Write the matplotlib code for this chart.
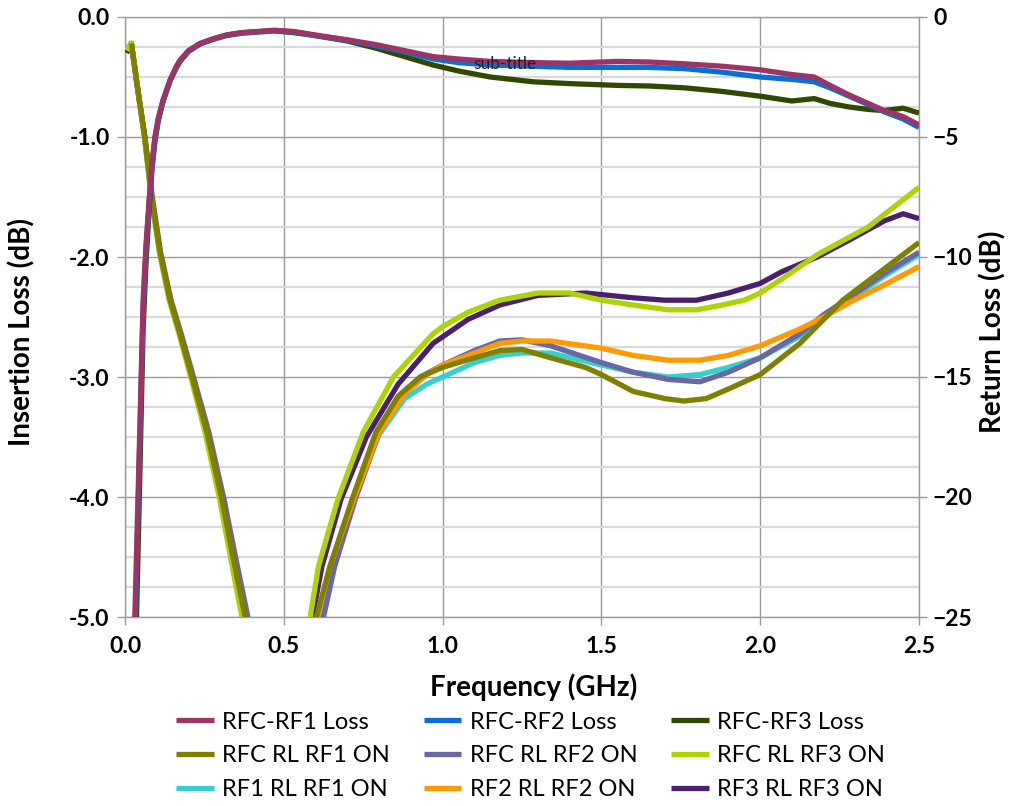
import matplotlib
matplotlib.use('Agg')
import matplotlib.pyplot as plt
from matplotlib import font_manager
from matplotlib.ticker import MultipleLocator, FormatStrFormatter

# pick a family that really has a bold face
FAMILY = 'DejaVu Sans'
for cand in ['Lato', 'Open Sans', 'Noto Sans', 'Roboto', 'Liberation Sans']:
    try:
        p = font_manager.findfont(font_manager.FontProperties(family=cand, weight='bold'),
                                  fallback_to_default=False)
        if 'bold' in p.lower():
            FAMILY = cand
            break
    except Exception:
        pass
plt.rcParams['font.family'] = [FAMILY, 'DejaVu Sans']
plt.rcParams['font.weight'] = 'bold'

# ---------------- data ----------------
IL_FREQ = [0.020, 0.031, 0.045, 0.057, 0.066, 0.076, 0.085, 0.094, 0.105, 0.120,
           0.142, 0.160, 0.173, 0.200, 0.236, 0.280, 0.320, 0.370, 0.425, 0.470,
           0.530, 0.600, 0.700, 0.790, 0.880, 0.970, 1.050, 1.150, 1.285, 1.400,
           1.550, 1.650, 1.760, 1.880, 2.000, 2.100, 2.170, 2.220, 2.280, 2.340,
           2.390, 2.450, 2.500]
IL_RFC_RF1 = [-6.5, -5.0, -3.6, -2.36, -1.9, -1.52, -1.22, -1.0, -0.84, -0.69,
              -0.525, -0.42, -0.36, -0.28, -0.22, -0.18, -0.15, -0.13, -0.12, -0.11,
              -0.12, -0.15, -0.19, -0.23, -0.28, -0.33, -0.35, -0.37, -0.38, -0.385,
              -0.37, -0.375, -0.39, -0.41, -0.44, -0.48, -0.50, -0.57, -0.65, -0.72,
              -0.78, -0.83, -0.90]
IL_RFC_RF2 = [-6.6, -5.2, -3.7, -2.45, -1.95, -1.55, -1.24, -1.02, -0.85, -0.70,
              -0.53, -0.43, -0.37, -0.285, -0.225, -0.185, -0.155, -0.135, -0.125, -0.115,
              -0.125, -0.155, -0.195, -0.24, -0.29, -0.35, -0.38, -0.40, -0.41, -0.42,
              -0.42, -0.42, -0.43, -0.46, -0.50, -0.52, -0.54, -0.59, -0.66, -0.73,
              -0.79, -0.85, -0.92]
IL_RFC_RF3 = [-7.0, -5.6, -4.0, -2.6, -2.05, -1.6, -1.27, -1.04, -0.86, -0.70,
              -0.53, -0.43, -0.37, -0.285, -0.225, -0.18, -0.15, -0.13, -0.12, -0.115,
              -0.13, -0.155, -0.20, -0.26, -0.33, -0.40, -0.45, -0.50, -0.54, -0.555,
              -0.57, -0.575, -0.59, -0.62, -0.66, -0.70, -0.68, -0.72, -0.75, -0.77,
              -0.78, -0.76, -0.80]

RL_RFC1_F = [0.020, 0.040, 0.062, 0.085, 0.110, 0.142, 0.173, 0.215, 0.258, 0.305,
             0.340, 0.378, 0.400, 0.480, 0.580, 0.603, 0.645, 0.715, 0.790, 0.860,
             0.930, 1.000, 1.100, 1.180, 1.250, 1.340, 1.450, 1.500, 1.600, 1.700,
             1.760, 1.830, 1.900, 2.000, 2.125, 2.260, 2.390, 2.500]
RL_RFC1 = [-1.1, -3.0, -5.0, -7.6, -9.8, -11.8, -13.2, -15.2, -17.3, -20.1,
           -22.5, -25.0, -27.0, -38.0, -27.0, -25.0, -22.9, -20.1, -17.3, -15.8,
           -15.0, -14.6, -14.2, -13.9, -13.85, -14.2, -14.6, -14.9, -15.6, -15.9,
           -16.0, -15.9, -15.5, -14.9, -13.6, -11.8, -10.5, -9.4]

RL_RFC2_F = [0.005, 0.020, 0.040, 0.063, 0.087, 0.112, 0.145, 0.177, 0.220, 0.264,
             0.312, 0.348, 0.387, 0.410, 0.490, 0.600, 0.625, 0.660, 0.725, 0.800,
             0.870, 0.930, 1.000, 1.100, 1.180, 1.250, 1.340, 1.500, 1.600, 1.710,
             1.810, 1.900, 2.000, 2.125, 2.200, 2.280, 2.390, 2.500]
RL_RFC2 = [-1.4, -1.1, -3.0, -5.0, -7.6, -9.8, -11.8, -13.2, -15.2, -17.3,
           -20.1, -22.5, -25.0, -27.0, -38.0, -27.0, -25.0, -22.9, -20.1, -17.3,
           -15.7, -15.0, -14.5, -13.9, -13.5, -13.45, -13.7, -14.4, -14.8, -15.1,
           -15.2, -14.8, -14.2, -13.2, -12.4, -11.7, -10.7, -9.8]

RL_RFC3_F = [0.005, 0.020, 0.040, 0.061, 0.083, 0.108, 0.139, 0.170, 0.211, 0.252,
             0.298, 0.332, 0.368, 0.390, 0.470, 0.570, 0.583, 0.609, 0.670, 0.750,
             0.845, 0.970, 1.000, 1.080, 1.180, 1.300, 1.400, 1.500, 1.600, 1.710,
             1.800, 1.880, 1.950, 2.000, 2.070, 2.180, 2.340, 2.500]
RL_RFC3 = [-1.4, -1.1, -3.0, -5.0, -7.6, -9.8, -11.8, -13.2, -15.2, -17.3,
           -20.1, -22.5, -25.0, -27.0, -38.0, -27.0, -25.0, -22.9, -20.1, -17.3,
           -15.0, -13.2, -12.9, -12.3, -11.8, -11.5, -11.5, -11.8, -12.0, -12.2,
           -12.2, -12.0, -11.8, -11.5, -10.9, -9.9, -8.75, -7.1]

RL_RF1_F = [0.005, 0.020, 0.040, 0.062, 0.085, 0.110, 0.142, 0.173, 0.215, 0.258,
            0.305, 0.340, 0.378, 0.400, 0.480, 0.590, 0.612, 0.650, 0.720, 0.800,
            0.880, 0.950, 1.000, 1.100, 1.180, 1.250, 1.340, 1.500, 1.600, 1.710,
            1.810, 1.900, 2.000, 2.125, 2.200, 2.280, 2.390, 2.500]
RL_RF1 = [-1.4, -1.1, -3.0, -5.0, -7.6, -9.8, -11.8, -13.2, -15.2, -17.3,
          -20.1, -22.5, -25.0, -27.0, -38.0, -27.0, -25.0, -22.9, -20.1, -17.4,
          -15.9, -15.3, -15.0, -14.4, -14.1, -14.0, -14.0, -14.5, -14.8, -15.0,
          -14.9, -14.6, -14.2, -13.3, -12.5, -11.8, -10.8, -9.9]

RL_RF2_F = [0.005, 0.020, 0.040, 0.062, 0.085, 0.110, 0.142, 0.173, 0.215, 0.258,
            0.305, 0.340, 0.378, 0.400, 0.480, 0.590, 0.606, 0.645, 0.720, 0.800,
            0.880, 0.950, 1.000, 1.100, 1.180, 1.250, 1.340, 1.500, 1.600, 1.710,
            1.810, 1.900, 2.000, 2.125, 2.200, 2.280, 2.340, 2.400, 2.500]
RL_RF2 = [-1.4, -1.1, -3.0, -5.0, -7.6, -9.8, -11.8, -13.2, -15.2, -17.3,
          -20.1, -22.5, -25.0, -27.0, -38.0, -27.0, -25.0, -22.9, -20.1, -17.3,
          -15.7, -14.9, -14.5, -14.0, -13.6, -13.5, -13.5, -13.8, -14.1, -14.3,
          -14.3, -14.1, -13.7, -13.0, -12.5, -11.9, -11.5, -11.1, -10.4]

RL_RF3_F = [0.005, 0.020, 0.040, 0.062, 0.085, 0.110, 0.142, 0.173, 0.215, 0.258,
            0.305, 0.340, 0.378, 0.400, 0.480, 0.575, 0.590, 0.620, 0.680, 0.760,
            0.860, 0.970, 1.080, 1.180, 1.300, 1.450, 1.600, 1.700, 1.800, 1.900,
            2.000, 2.070, 2.180, 2.280, 2.390, 2.450, 2.500]
RL_RF3 = [-1.5, -1.1, -3.0, -5.0, -7.6, -9.8, -11.8, -13.2, -15.2, -17.3,
          -20.1, -22.5, -25.0, -27.0, -38.0, -27.0, -25.0, -22.9, -20.1, -17.5,
          -15.3, -13.6, -12.6, -12.0, -11.6, -11.5, -11.7, -11.8, -11.8, -11.5,
          -11.1, -10.6, -10.0, -9.3, -8.5, -8.2, -8.4]

LABELS = ['RFC-RF1 Loss', 'RFC-RF2 Loss', 'RFC-RF3 Loss',
          'RFC RL RF1 ON', 'RFC RL RF2 ON', 'RFC RL RF3 ON',
          'RF1 RL RF1 ON', 'RF2 RL RF2 ON', 'RF3 RL RF3 ON']
COLORS = ['#9C3466', '#0A6FD4', '#314800',
          '#808000', '#6A67A6', '#ADD300',
          '#35CFCF', '#FF9A00', '#4B1F6F']

X_TICKS = [0.0, 0.5, 1.0, 1.5, 2.0, 2.5]
IL_TICKS = [0.0, -1.0, -2.0, -3.0, -4.0, -5.0]
RL_TICKS = [0, -5, -10, -15, -20, -25]

# ---------------- figure ----------------
W, H = 1011, 806
fig = plt.figure(figsize=(W / 100, H / 100), dpi=100)
L, R, T, B = 125, 919, 17, 617
ax_rl = fig.add_axes([L / W, 1 - B / H, (R - L) / W, (B - T) / H])
ax_il = ax_rl.twinx()

LW = 3.8
GRID_MAJ = '#9a9a9a'
GRID_MIN = '#dadada'

rl_series = {
    6: (RL_RF1_F, RL_RF1),
    4: (RL_RFC2_F, RL_RFC2),
    7: (RL_RF2_F, RL_RF2),
    8: (RL_RF3_F, RL_RF3),
    5: (RL_RFC3_F, RL_RFC3),
    3: (RL_RFC1_F, RL_RFC1),
}
handles = {}
for idx, (fx, fy) in rl_series.items():
    ln, = ax_rl.plot(fx, fy, color=COLORS[idx], lw=LW, solid_capstyle='butt',
                     solid_joinstyle='round', label=LABELS[idx], zorder=3)
    handles[idx] = ln

il_series = {2: IL_RFC_RF3, 1: IL_RFC_RF2, 0: IL_RFC_RF1}
for idx, vals in il_series.items():
    ln, = ax_il.plot(IL_FREQ, vals, color=COLORS[idx], lw=LW, solid_capstyle='butt',
                     solid_joinstyle='round', label=LABELS[idx], zorder=3)
    handles[idx] = ln

ax_rl.set_xlim(0, 2.5)
ax_rl.set_ylim(-25, 0)
ax_il.set_ylim(-5, 0)

ax_rl.set_xticks(X_TICKS)
ax_rl.xaxis.set_major_formatter(FormatStrFormatter('%.1f'))
ax_rl.set_yticks(RL_TICKS)
ax_rl.yaxis.set_minor_locator(MultipleLocator(1.25))
ax_il.set_yticks(IL_TICKS)
ax_il.yaxis.set_major_formatter(FormatStrFormatter('%.1f'))

ax_rl.yaxis.tick_right()
ax_il.yaxis.tick_left()

ax_rl.set_axisbelow(True)
ax_rl.grid(True, which='major', axis='both', color=GRID_MAJ, lw=1.0)
ax_rl.grid(True, which='minor', axis='y', color=GRID_MIN, lw=1.6)

for sp in ax_rl.spines.values():
    sp.set_color(GRID_MAJ)
    sp.set_linewidth(1.0)
for sp in ax_il.spines.values():
    sp.set_visible(False)
ax_il.patch.set_visible(False)

TS = 16.5
ax_rl.tick_params(axis='x', which='major', direction='out', length=6, width=1,
                  color=GRID_MAJ, pad=8, labelsize=TS)
ax_rl.tick_params(axis='y', which='major', direction='out', length=6, width=1,
                  color=GRID_MAJ, pad=4, labelsize=TS, right=True, left=False,
                  labelright=True, labelleft=False)
ax_rl.tick_params(axis='y', which='minor', length=0, left=False, right=False)
ax_il.tick_params(axis='y', which='major', direction='out', length=6, width=1,
                  color=GRID_MAJ, pad=5, labelsize=TS, left=True, right=False,
                  labelleft=True, labelright=False)

lab_font = dict(fontsize=20, fontweight='bold', color='black')
fig.text(534 / W, 1 - 687 / H, 'Frequency (GHz)', ha='center', va='center', **lab_font)
fig.text(22 / W, 1 - 332 / H, 'Insertion Loss (dB)', rotation=90, ha='center',
         va='center', **lab_font)
fig.text(993 / W, 1 - 332 / H, 'Return Loss (dB)', rotation=90, ha='center',
         va='center', **lab_font)

ax_il.text(0.4786, 0.9217, 'sub-title', transform=ax_il.transAxes, ha='center',
           va='center', fontsize=12.5, fontweight='normal', color='#222222', zorder=5)

order = [0, 3, 6, 1, 4, 7, 2, 5, 8]
leg = fig.legend([handles[i] for i in order], [LABELS[i] for i in order],
                 ncol=3, loc='center', bbox_to_anchor=(530.5 / W, 1 - 756 / H),
                 frameon=False, prop={'size': 17, 'weight': 'normal'},
                 handlelength=1.6, handletextpad=0.35,
                 columnspacing=1.42, labelspacing=0.55, borderpad=0, borderaxespad=0)

fig.savefig('out.png', dpi=100)
